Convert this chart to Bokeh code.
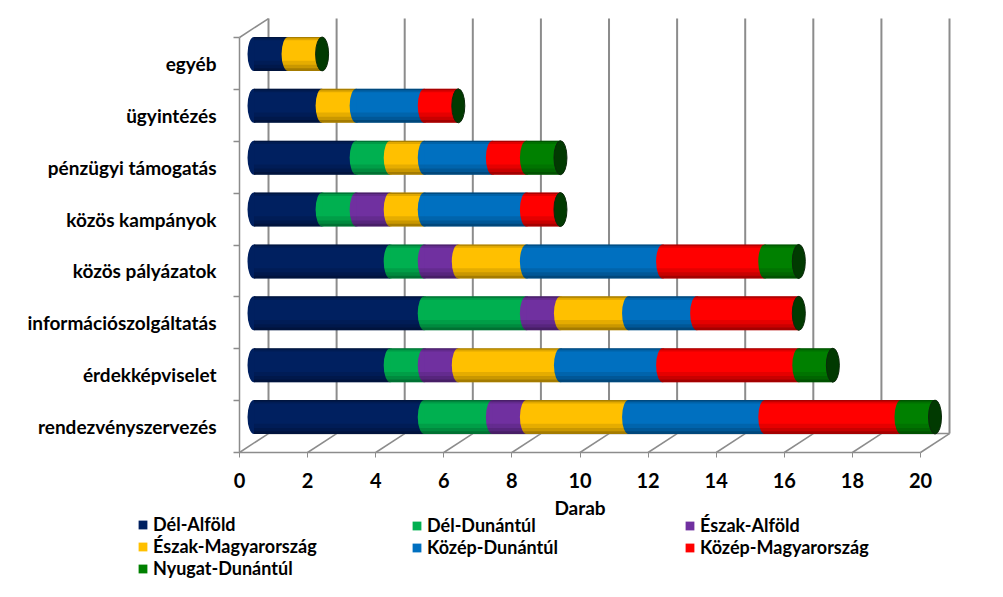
from bokeh.plotting import figure
from bokeh.models import Range1d, FixedTicker, ColumnDataSource, Legend, LegendItem
from bokeh.embed import file_html
from bokeh.resources import INLINE

# ---------------- data ----------------
categories = ["rendezvényszervezés", "érdekképviselet", "információszolgáltatás",
              "közös pályázatok", "közös kampányok", "pénzügyi támogatás",
              "ügyintézés", "egyéb"]
series_names = ["Dél-Alföld", "Dél-Dunántúl", "Észak-Alföld", "Észak-Magyarország",
                "Közép-Dunántúl", "Közép-Magyarország", "Nyugat-Dunántúl"]
del_alfold = [5, 4, 5, 4, 2, 3, 2, 1]
del_dunantul = [2, 1, 3, 1, 1, 1, 0, 0]
eszak_alfold = [1, 1, 1, 1, 1, 0, 0, 0]
eszak_magyarorszag = [3, 3, 2, 2, 1, 1, 1, 1]
kozep_dunantul = [4, 3, 2, 4, 3, 2, 2, 0]
kozep_magyarorszag = [4, 4, 3, 3, 1, 1, 1, 0]
nyugat_dunantul = [1, 1, 0, 1, 0, 1, 0, 0]
x_ticks = [0, 2, 4, 6, 8, 10, 12, 14, 16, 18, 20]
x_label = "Darab"

series = [del_alfold, del_dunantul, eszak_alfold, eszak_magyarorszag,
          kozep_dunantul, kozep_magyarorszag, nyugat_dunantul]
colors = ["#002060", "#00B050", "#7030A0", "#FFC000", "#0070C0", "#FF0000", "#008000"]

# ---------------- geometry / style ----------------
FONT = "Lato"
W, H = 987, 581
X0_PX, Y0_PX = 239, 452          # screen position of the (0, 0) corner of the front floor
PX_X, PX_Y = 34.05, 51.875       # pixels per x unit / per category
DX = 0.852      # depth offset (x units)
DY = 0.366      # depth offset (category units)
BAR_H = 0.655
CAP_W = 13
GRID = "#8c8c8c"
n = len(categories)
XMAX = x_ticks[-1]

p = figure(width=W, height=H, output_backend="svg", toolbar_location=None,
           x_range=Range1d(-X0_PX / PX_X, (W - X0_PX) / PX_X),
           y_range=Range1d(-(H - Y0_PX) / PX_Y, Y0_PX / PX_Y),
           min_border=0, min_border_left=0, min_border_right=0,
           min_border_top=0, min_border_bottom=0)
p.outline_line_color = None
p.xgrid.visible = False
p.ygrid.visible = False
p.background_fill_color = "white"
p.border_fill_color = "white"

# back wall gridlines
p.segment(x0=[t + DX for t in x_ticks], y0=[DY] * len(x_ticks),
          x1=[t + DX for t in x_ticks], y1=[n + DY] * len(x_ticks),
          line_color=GRID, line_width=2)
# floor diagonals
p.segment(x0=x_ticks, y0=[0] * len(x_ticks),
          x1=[t + DX for t in x_ticks], y1=[DY] * len(x_ticks),
          line_color=GRID, line_width=1.5)
# back wall bottom edge + side wall top edge
p.segment(x0=[DX, 0], y0=[DY, n], x1=[XMAX + DX, DX], y1=[DY, n + DY],
          line_color=GRID, line_width=1.5)

# ---------------- bars ----------------
yc = [i + 0.5 + DY / 2 for i in range(n)]
cum = [0] * n
renderers = []
for name, vals, col in zip(series_names, series, colors):
    idx = [i for i in range(n) if vals[i] > 0]
    src = ColumnDataSource(dict(
        y=[yc[i] for i in idx],
        left=[cum[i] + DX / 2 for i in idx],
        right=[cum[i] + vals[i] + DX / 2 for i in idx]))
    p.ellipse(x="left", y="y", width=CAP_W, height=BAR_H, width_units="screen",
              source=src, fill_color=col, line_color=None)
    r = p.hbar(y="y", left="left", right="right", height=BAR_H, source=src,
               fill_color=col, line_color=None)
    renderers.append(r)
    cum = [c + v for c, v in zip(cum, vals)]

totals = cum
# cylinder shading
top = [y + BAR_H / 2 for y in yc]
bot = [y - BAR_H / 2 for y in yc]
lefts = [DX / 2] * n
rights = [t + DX / 2 for t in totals]
for frac, alpha in [(0.30, 0.10), (0.18, 0.12), (0.08, 0.18)]:
    p.hbar(y=[b + BAR_H * frac / 2 for b in bot], left=lefts, right=rights,
           height=BAR_H * frac, fill_color="black", fill_alpha=alpha, line_color=None)
for frac, alpha in [(0.10, 0.12), (0.04, 0.25)]:
    p.hbar(y=[t - BAR_H * frac / 2 for t in top], left=lefts, right=rights,
           height=BAR_H * frac, fill_color="black", fill_alpha=alpha, line_color=None)
# end caps
p.ellipse(x=rights, y=yc, width=CAP_W, height=BAR_H, width_units="screen",
          fill_color="#013a01", line_color="#0b2a0b", line_width=1)

# ---------------- axes (drawn at the floor / side-wall edges) ----------------
xa = p.xaxis[0]
xa.fixed_location = 0
xa.ticker = FixedTicker(ticks=x_ticks)
xa.bounds = (0, XMAX)
xa.axis_label = x_label
xa.axis_line_color = GRID
xa.axis_line_width = 1.5
xa.major_tick_line_color = GRID
xa.major_tick_out = 5
xa.major_tick_in = 0
xa.minor_tick_line_color = None
xa.major_label_standoff = 15
xa.major_label_text_font = FONT
xa.major_label_text_font_style = "bold"
xa.major_label_text_font_size = "20px"
xa.major_label_text_color = "black"
xa.axis_label_text_font = FONT
xa.axis_label_text_font_style = "bold"
xa.axis_label_text_font_size = "19px"
xa.axis_label_text_color = "black"
xa.axis_label_standoff = 5

ya = p.yaxis[0]
ya.fixed_location = 0
ya.ticker = FixedTicker(ticks=[i + 0.5 for i in range(n)],
                        minor_ticks=list(range(n + 1)))
ya.bounds = (0, n)
ya.major_label_overrides = {i + 0.5: c for i, c in enumerate(categories)}
ya.axis_line_color = GRID
ya.axis_line_width = 1.5
ya.major_tick_out = 0
ya.major_tick_in = 0
ya.minor_tick_out = 6
ya.minor_tick_in = 0
ya.minor_tick_line_color = GRID
ya.minor_tick_line_width = 1.5
ya.major_label_standoff = 17
ya.major_label_text_font = FONT
ya.major_label_text_font_style = "bold"
ya.major_label_text_font_size = "19px"
ya.major_label_text_color = "black"

# ---------------- legend ----------------
ROW = 21
BOTTOM = 2          # legend bottom gap from canvas bottom (px)
cols = [[0, 3, 6], [1, 4], [2, 5]]
xs = [137, 411, 684]
for col_idx, x0 in zip(cols, xs):
    items = [LegendItem(label=series_names[k], renderers=[renderers[k]]) for k in col_idx]
    y0 = BOTTOM + ROW * (3 - len(col_idx))
    lg = Legend(items=items, location=(x0, y0), orientation="vertical",
                glyph_width=11, glyph_height=11, label_standoff=5,
                label_height=ROW, spacing=0, padding=0, margin=0,
                border_line_color=None, background_fill_alpha=0,
                label_text_font=FONT, label_text_font_style="bold",
                label_text_font_size="18px", label_text_color="black")
    p.add_layout(lg, "center")

open("out.html", "w").write(file_html(p, INLINE))
